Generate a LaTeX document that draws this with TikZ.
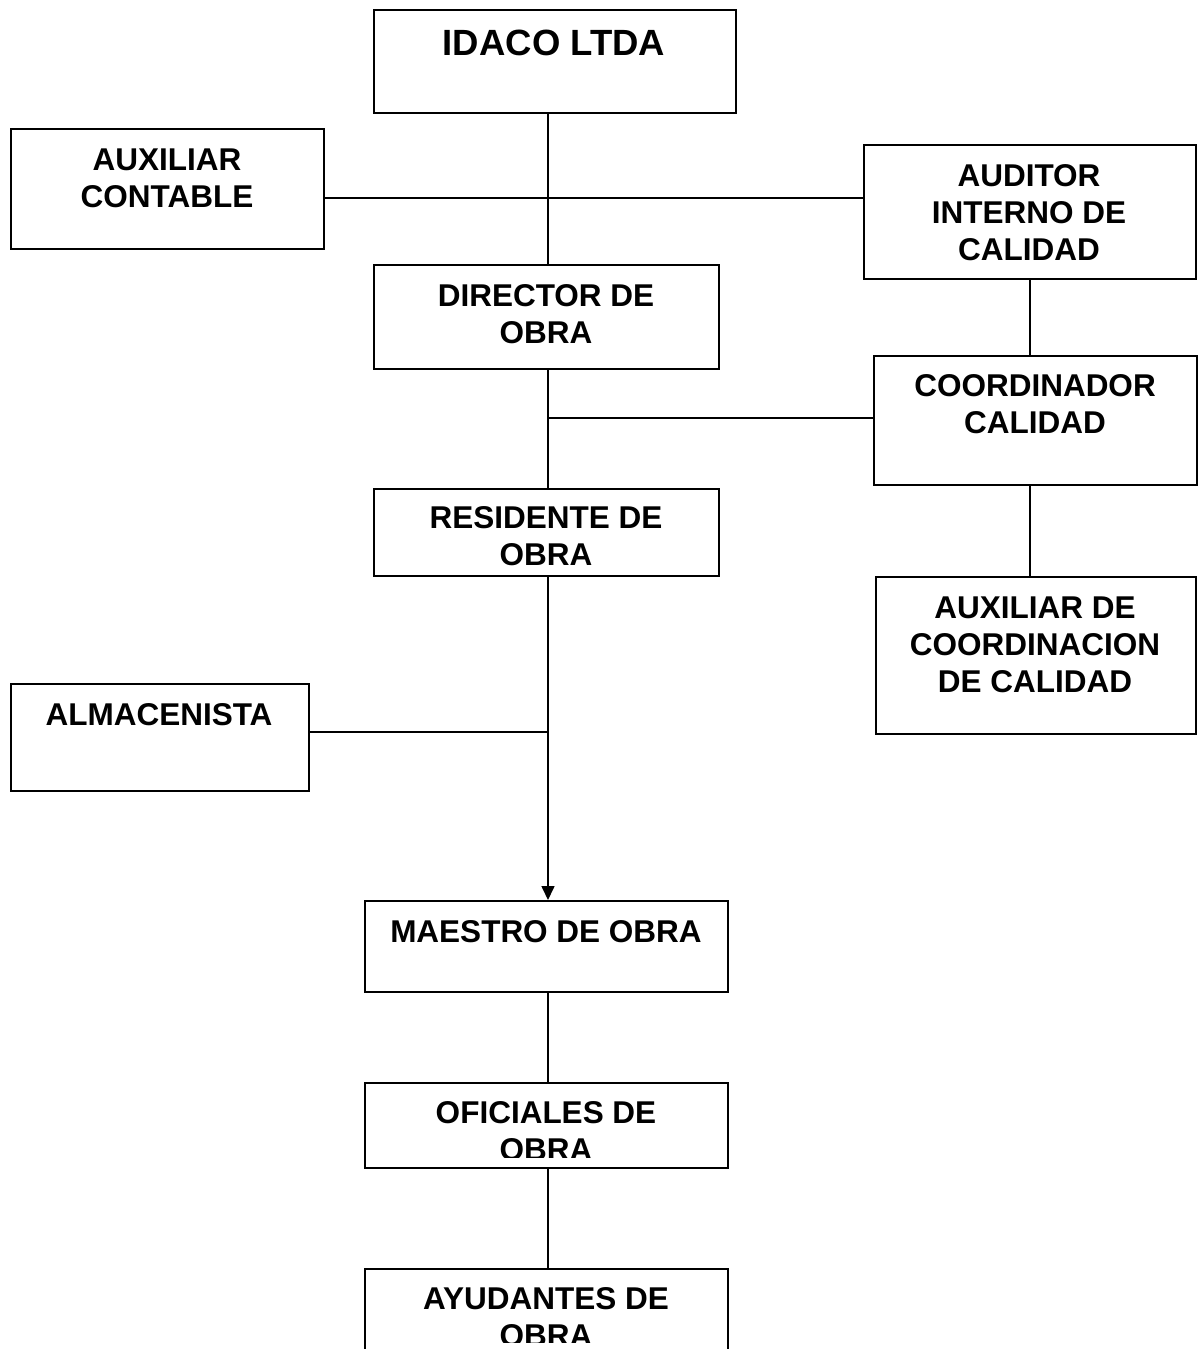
\documentclass[tikz,border=0pt]{standalone}
\usepackage{fontspec}
\setmainfont{Liberation Sans}
\usetikzlibrary{arrows.meta}
\begin{document}
\begin{tikzpicture}[x=1pt,y=-1pt,
  box/.style={draw, line width=2pt, inner sep=0pt, anchor=north west},
  conn/.style={line width=1.6pt},
  txt/.style={font=\bfseries\fontsize{31.5}{37}\selectfont, align=center, inner sep=0pt, anchor=base},
  bigtxt/.style={txt, font=\bfseries\fontsize{36.5}{42}\selectfont}]
\useasboundingbox (0,0) rectangle (1199,1349);
\clip (0,0) rectangle (1199,1349);
\fill[white] (0,0) rectangle (1199,1349);

% boxes
\node[box, minimum width=362pt, minimum height=103pt] (idaco) at (373,9) {};
\node[box, minimum width=313pt, minimum height=120pt] (auxcont) at (10,128) {};
\node[box, minimum width=332pt, minimum height=134pt] (auditor) at (863,144) {};
\node[box, minimum width=345pt, minimum height=104pt] (director) at (373,264) {};
\node[box, minimum width=323pt, minimum height=129pt] (coord) at (873,355) {};
\node[box, minimum width=345pt, minimum height=87pt] (residente) at (373,488) {};
\node[box, minimum width=320pt, minimum height=157pt] (auxcoord) at (875,576) {};
\node[box, minimum width=298pt, minimum height=107pt] (almac) at (10,683) {};
\node[box, minimum width=363pt, minimum height=91pt] (maestro) at (364,900) {};
\node[box, minimum width=363pt, minimum height=85pt] (oficiales) at (364,1082) {};
\node[box, minimum width=363pt, minimum height=120pt] (ayudantes) at (364,1268) {};

% texts (anchor = baseline of the last line)
\node[bigtxt] (idacot) at (554,55) {IDACO LTDA};
\node[txt] (auxcontt) at (167,207) {AUXILIAR\\CONTABLE};
\node[txt] (auditort) at (1029,260) {AUDITOR\\INTERNO DE\\CALIDAD};
\node[txt] (directort) at (546,343) {DIRECTOR DE\\OBRA};
\node[txt] (coordt) at (1035,433) {COORDINADOR\\CALIDAD};
\node[txt] (residentet) at (546,565) {RESIDENTE DE\\OBRA};
\node[txt] (auxcoordt) at (1035,692) {AUXILIAR DE\\COORDINACION\\DE CALIDAD};
\node[txt] (almact) at (159,725) {ALMACENISTA};
\node[txt] (maestrot) at (546,942) {MAESTRO DE OBRA};
\begin{scope}
  \clip (364,1082) rectangle (727,1157);
  \node[txt] (oficialest) at (546,1160) {OFICIALES DE\\OBRA};
\end{scope}
\begin{scope}
  \clip (364,1268) rectangle (727,1342);
  \node[txt] (ayudantest) at (546,1346) {AYUDANTES DE\\OBRA};
\end{scope}

% junction coordinates
\coordinate (jtop) at (548,198);
\coordinate (jmid) at (548,418);
\coordinate (jalm) at (548,732);
\coordinate (ccol) at (1030,0);

% connectors
\draw[conn] (idaco.south -| jtop) -- (director.north -| jtop);
\draw[conn] (auxcont.east |- jtop) -- (auditor.west |- jtop);
\draw[conn] (director.south -| jmid) -- (residente.north -| jmid);
\draw[conn] (jmid) -- (coord.west |- jmid);
\draw[conn] (auditor.south -| ccol) -- (coord.north -| ccol);
\draw[conn] (coord.south -| ccol) -- (auxcoord.north -| ccol);
\draw[conn, -{Triangle[length=14pt,width=13pt]}] (residente.south -| jalm) -- (maestro.north -| jalm);
\draw[conn] (almac.east |- jalm) -- (jalm);
\draw[conn] (maestro.south -| jalm) -- (oficiales.north -| jalm);
\draw[conn] (oficiales.south -| jalm) -- (ayudantes.north -| jalm);
\end{tikzpicture}
\end{document}
